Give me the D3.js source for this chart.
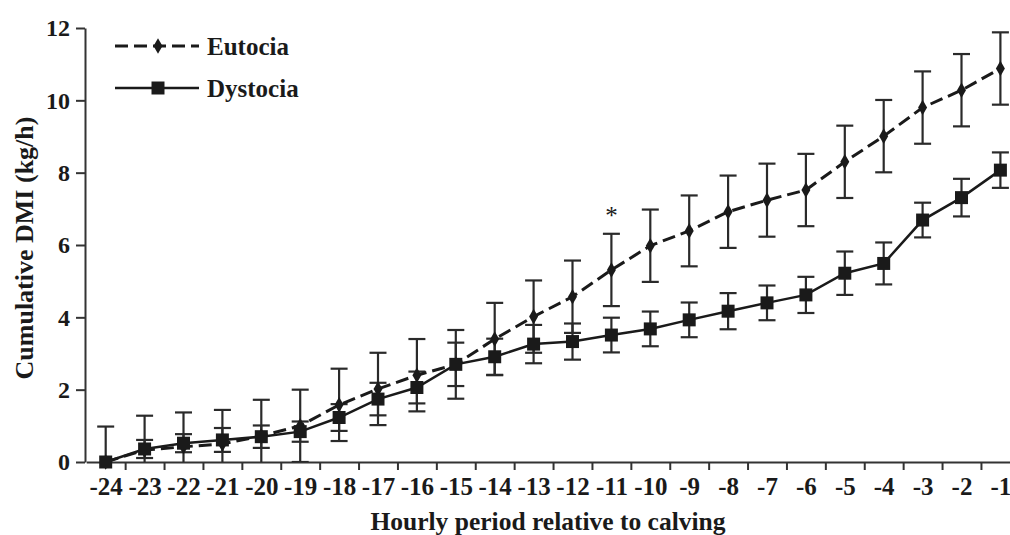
<!DOCTYPE html>
<html>
<head>
<meta charset="utf-8">
<script src="https://cdn.jsdelivr.net/npm/d3@7"></script>
<style>
  body { margin: 0; background: #fff; }
  text { font-family: "Liberation Serif", "Times New Roman", serif; font-weight: bold; fill: #1a1a1a; }
</style>
</head>
<body>
<div id="chart"></div>
<script>
var hours = [-24, -23, -22, -21, -20, -19, -18, -17, -16, -15, -14, -13, -12, -11, -10, -9, -8, -7, -6, -5, -4, -3, -2, -1];
var eutociaMean = [0, 0.33, 0.42, 0.5, 0.72, 1.0, 1.58, 2.02, 2.4, 2.7, 3.4, 4.02, 4.57, 5.31, 5.98, 6.39, 6.92, 7.24, 7.52, 8.3, 9.01, 9.8, 10.28, 10.88];
var eutociaErr = [0.98, 0.95, 0.95, 0.94, 1.0, 1.0, 1.0, 1.0, 1.0, 0.95, 1.0, 1.0, 1.0, 1.0, 1.0, 0.98, 1.0, 1.01, 1.0, 1.0, 1.0, 1.0, 1.0, 1.0];
var dystociaMean = [0, 0.36, 0.52, 0.61, 0.7, 0.84, 1.23, 1.74, 2.06, 2.7, 2.91, 3.26, 3.33, 3.51, 3.68, 3.93, 4.17, 4.4, 4.62, 5.22, 5.49, 6.69, 7.31, 8.07];
var dystociaErr = [0, 0.25, 0.25, 0.33, 0.31, 0.28, 0.37, 0.45, 0.44, 0.6, 0.5, 0.53, 0.5, 0.48, 0.48, 0.48, 0.5, 0.48, 0.5, 0.6, 0.58, 0.48, 0.52, 0.49];
var yTicks = [0, 2, 4, 6, 8, 10, 12];
var sigHours = [-11];

var width = 1010, height = 535;
var ink = "#1a1a1a";

var x = d3.scaleLinear().domain([-24.5, -0.5]).range([86.25, 1019.85]);
var y = d3.scaleLinear().domain([0, 12]).range([462, 28]);

var svg = d3.select("#chart")
    .append("svg")
    .attr("width", width)
    .attr("height", height);

svg.append("defs").append("clipPath")
    .attr("id", "plotclip")
    .append("rect")
    .attr("x", 85).attr("y", 0)
    .attr("width", width - 85).attr("height", y(0));

function makeSeries(name, means, errs) {
    return hours.map(function(h, i) {
        return { name: name, hour: h, mean: means[i], err: errs[i] };
    });
}

var series = [
    { name: "Eutocia", data: makeSeries("Eutocia", eutociaMean, eutociaErr), dash: "13,6", width: 3, symbol: d3.symbolDiamond, size: 70 },
    { name: "Dystocia", data: makeSeries("Dystocia", dystociaMean, dystociaErr), dash: null, width: 2.5, symbol: d3.symbolSquare, size: 169 }
];

// axes
var yAxis = svg.append("g")
    .attr("transform", "translate(85,0)")
    .call(d3.axisLeft(y).tickValues(yTicks).tickSize(9).tickSizeOuter(0).tickPadding(6));
yAxis.select(".domain").attr("stroke", "#333").attr("stroke-width", 2);
yAxis.selectAll(".tick line").attr("stroke", "#333").attr("stroke-width", 2);
yAxis.selectAll("text").style("font-size", "24px").attr("fill", ink);

var boundaries = hours.map(function(h) { return h + 0.5; });
var xTickAxis = svg.append("g")
    .attr("transform", "translate(0," + y(0) + ")")
    .call(d3.axisBottom(x).tickValues(boundaries).tickSize(8).tickSizeOuter(0).tickFormat(""));
xTickAxis.select(".domain").attr("stroke", "#333").attr("stroke-width", 2);
xTickAxis.selectAll(".tick line").attr("stroke", "#333").attr("stroke-width", 2);

var xLabelAxis = svg.append("g")
    .attr("transform", "translate(0," + y(0) + ")")
    .call(d3.axisBottom(x).tickValues(hours).tickSize(0).tickFormat(function(d) { return String(d); }));
xLabelAxis.select(".domain").remove();
xLabelAxis.selectAll("text")
    .attr("dy", null)
    .attr("y", 33)
    .style("font-size", "25px")
    .attr("fill", ink);

svg.append("text")
    .attr("x", 548)
    .attr("y", 530)
    .attr("text-anchor", "middle")
    .style("font-size", "25.5px")
    .text("Hourly period relative to calving");

svg.append("text")
    .attr("transform", "translate(33,248) rotate(-90)")
    .attr("text-anchor", "middle")
    .style("font-size", "26px")
    .text("Cumulative DMI (kg/h)");

// error bars
var capHalf = 8.5;
series.forEach(function(s) {
    var eb = svg.append("g")
        .attr("clip-path", "url(#plotclip)")
        .selectAll(".err")
        .data(s.data.filter(function(d) { return d.err > 0; }))
        .enter().append("g")
        .attr("stroke", "#2a2a2a")
        .attr("stroke-width", 2.2);

    eb.append("line")
        .attr("x1", function(d) { return x(d.hour); })
        .attr("x2", function(d) { return x(d.hour); })
        .attr("y1", function(d) { return y(d.mean + d.err); })
        .attr("y2", function(d) { return y(d.mean - d.err); });
    eb.append("line")
        .attr("x1", function(d) { return x(d.hour) - capHalf; })
        .attr("x2", function(d) { return x(d.hour) + capHalf; })
        .attr("y1", function(d) { return y(d.mean + d.err); })
        .attr("y2", function(d) { return y(d.mean + d.err); });
    eb.append("line")
        .attr("x1", function(d) { return x(d.hour) - capHalf; })
        .attr("x2", function(d) { return x(d.hour) + capHalf; })
        .attr("y1", function(d) { return y(d.mean - d.err); })
        .attr("y2", function(d) { return y(d.mean - d.err); });
});

// lines and markers
var line = d3.line()
    .x(function(d) { return x(d.hour); })
    .y(function(d) { return y(d.mean); });

series.forEach(function(s) {
    svg.append("path")
        .datum(s.data)
        .attr("fill", "none")
        .attr("stroke", ink)
        .attr("stroke-width", s.width)
        .attr("stroke-dasharray", s.dash)
        .attr("d", line);

    svg.selectAll(".pt-" + s.name)
        .data(s.data)
        .enter().append("path")
        .attr("transform", function(d) { return "translate(" + x(d.hour) + "," + y(d.mean) + ")"; })
        .attr("d", d3.symbol().type(s.symbol).size(s.size))
        .attr("fill", ink);
});

// significance marker
svg.selectAll(".sig")
    .data(sigHours)
    .enter().append("text")
    .attr("x", function(h) { return x(h); })
    .attr("y", function(h) {
        var i = hours.indexOf(h);
        return y(eutociaMean[i] + eutociaErr[i]) - 10;
    })
    .attr("text-anchor", "middle")
    .style("font-size", "25px")
    .style("font-weight", "normal")
    .attr("fill", "#444")
    .text("*");

// legend
var legend = svg.append("g");
series.forEach(function(s, i) {
    var ly = 46 + i * 42;
    legend.append("line")
        .attr("x1", 115).attr("x2", 199)
        .attr("y1", ly).attr("y2", ly)
        .attr("stroke", ink)
        .attr("stroke-width", s.width)
        .attr("stroke-dasharray", s.dash);
    legend.append("path")
        .attr("transform", "translate(158," + ly + ")")
        .attr("d", d3.symbol().type(s.symbol).size(s.size))
        .attr("fill", ink);
    legend.append("text")
        .attr("x", 207)
        .attr("y", ly + 9)
        .style("font-size", "25px")
        .text(s.name);
});
</script>
</body>
</html>
